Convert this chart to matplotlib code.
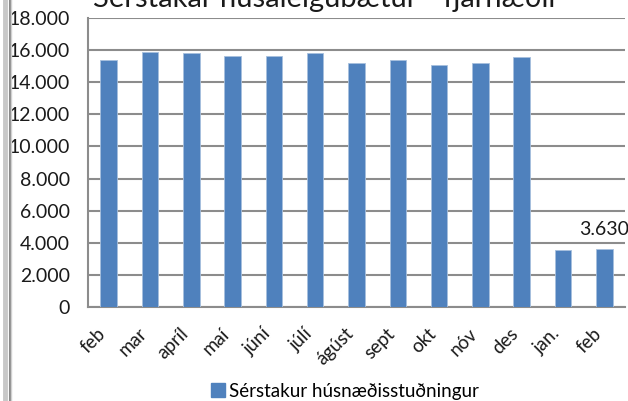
import matplotlib
matplotlib.use("Agg")
import matplotlib.pyplot as plt
from matplotlib.lines import Line2D
from matplotlib.patches import Patch
import matplotlib.transforms as mtransforms

months = ["feb", "mar", "apríl", "maí", "júní", "júlí", "ágúst", "sept", "okt", "nóv", "des", "jan.", "feb"]
values = [15400, 15900, 15830, 15660, 15640, 15830, 15170, 15360, 15090, 15170, 15560, 3580, 3630]
series_name = "Sérstakur húsnæðisstuðningur"
title = "Sérstakar húsaleigubætur - fjárhæðir"
yticks = [0, 2000, 4000, 6000, 8000, 10000, 12000, 14000, 16000, 18000]

plt.rcParams['font.family'] = ['Lato', 'DejaVu Sans']

W, H = 628, 401
fig = plt.figure(figsize=(W / 100, H / 100), dpi=100)
ax = fig.add_axes([88 / W, 1 - 307 / H, 537 / W, 289 / H])

x = list(range(len(months)))
ax.bar(x, values, width=0.4, color="#4F81BD", edgecolor="#A7C0DE", linewidth=0.6, zorder=3)
ax.set_xlim(-0.5, len(months) - 0.5)
ax.set_ylim(0, 18000)
ax.set_yticks(yticks)
ax.set_yticklabels([f"{v:,}".replace(",", ".") for v in yticks], fontsize=14, color="#1a1a1a")
ax.set_xticks(x)
ax.set_xticklabels(months, rotation=45, ha="right", va="top", fontsize=13.5, color="#1a1a1a")
offset = mtransforms.ScaledTranslation(9 / 100, 0, fig.dpi_scale_trans)
for lab in ax.get_xticklabels():
    lab.set_transform(lab.get_transform() + offset)
ax.tick_params(axis="y", length=0, pad=13)
ax.tick_params(axis="x", length=0, pad=13)
ax.yaxis.grid(True, color="#8c8c8c", linewidth=1.5, zorder=0)
ax.set_axisbelow(True)
for s in ["top", "right"]:
    ax.spines[s].set_visible(False)
for s in ["left", "bottom"]:
    ax.spines[s].set_color("#8c8c8c")
    ax.spines[s].set_linewidth(1.5)

ax.annotate(f"{values[-1]:,}".replace(",", "."), xy=(x[-1], values[-1]), xytext=(0, 8),
            textcoords="offset points", ha="center", va="bottom", fontsize=14, color="#1a1a1a")

fig.text(326 / W, 1 - 7 / H, title, ha="center", va="baseline", fontsize=21, color="#1a1a1a")

leg = fig.legend(handles=[Patch(color="#4F81BD")], labels=[series_name], loc="center",
                 bbox_to_anchor=(345 / W, 1 - 391 / H), frameon=False, fontsize=13.5,
                 handlelength=0.75, handleheight=0.75, handletextpad=0.25,
                 borderpad=0, borderaxespad=0)

# left decorative border
fig.add_artist(Line2D([5 / W, 5 / W], [0, 1], color="#c8c8c8", linewidth=3.5, transform=fig.transFigure))
fig.add_artist(Line2D([9.5 / W, 9.5 / W], [0, 1], color="#8a8a8a", linewidth=1.5, transform=fig.transFigure))
fig.add_artist(Line2D([11 / W, 11 / W], [0, 1], color="#d0d0d0", linewidth=1, transform=fig.transFigure))

fig.savefig("out.png", dpi=100)
